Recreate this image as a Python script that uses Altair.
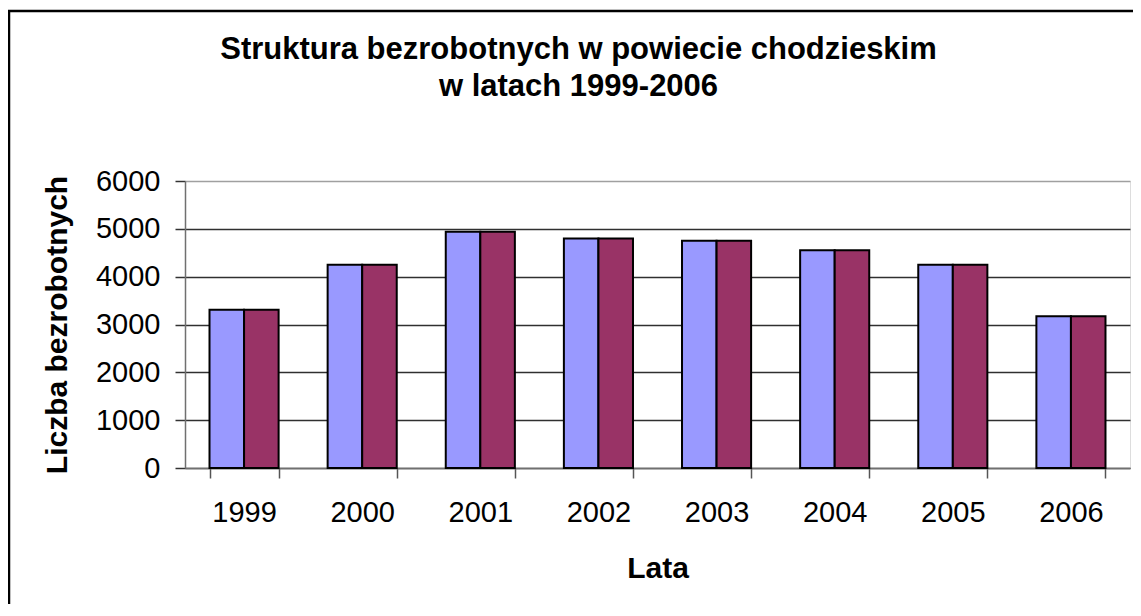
import altair as alt
import pandas as pd

years = ["1999", "2000", "2001", "2002", "2003", "2004", "2005", "2006"]
series_a = [3310, 4250, 4940, 4800, 4750, 4550, 4250, 3170]
series_b = [3310, 4250, 4940, 4800, 4750, 4550, 4250, 3170]
series_names = ["Seria1", "Seria2"]
series_colors = ["#9999FF", "#993366"]
y_ticks = [0, 1000, 2000, 3000, 4000, 5000, 6000]

rows = []
for i, y in enumerate(years):
    rows.append({"rok": y, "seria": series_names[0], "liczba": series_a[i]})
    rows.append({"rok": y, "seria": series_names[1], "liczba": series_b[i]})
df = pd.DataFrame(rows)

W, H = 945, 287
FONT = "Liberation Sans"

bars = alt.Chart(df).mark_bar(stroke="black", strokeWidth=2).encode(
    x=alt.X("rok:N", sort=years,
            scale=alt.Scale(paddingInner=0.415, paddingOuter=0.2075),
            axis=alt.Axis(title="Lata", labelAngle=0, labelFontSize=29, labelFont=FONT,
                          labelColor="black", labelPadding=20, tickSize=10,
                          tickBand="extent", tickColor="#555555", tickWidth=1.5,
                          domainColor="#707070", domainWidth=1.5,
                          titleFont=FONT, titleFontSize=30, titleFontWeight="bold",
                          titleColor="black", titleX=W / 2, titleY=109,
                          titleBaseline="alphabetic", titleAlign="center", grid=False)),
    xOffset=alt.XOffset("seria:N", sort=series_names, scale=alt.Scale(paddingInner=0, paddingOuter=0)),
    y=alt.Y("liczba:Q", scale=alt.Scale(domain=[0, 6000], nice=False),
            axis=alt.Axis(title="Liczba bezrobotnych", values=y_ticks, format="d",
                          labelFontSize=29, labelFont=FONT, labelColor="black",
                          labelPadding=15, tickSize=10, tickColor="#333333", tickWidth=1.5,
                          domainColor="#707070", domainWidth=1.5,
                          grid=True,
                          gridColor={"condition": {"test": "datum.value === 6000", "value": "#a0a0a0"},
                                     "value": "#303030"},
                          gridWidth=1.5,
                          titleFont=FONT, titleFontSize=30, titleFontWeight="bold",
                          titleColor="black", titleAngle=270, titleX=-119, titleY=H / 2,
                          titleBaseline="alphabetic", titleAlign="center")),
    color=alt.Color("seria:N", sort=series_names,
                    scale=alt.Scale(domain=series_names, range=series_colors), legend=None),
)

frame = alt.Chart(alt.Data(values=[{}])).mark_rect(
    filled=False, stroke="black", strokeWidth=2.5, clip=False
).encode(
    x=alt.value(-176), x2=alt.value(W + 40),
    y=alt.value(-170), y2=alt.value(H + 160),
)

chart = alt.layer(bars, frame).properties(
    width=W, height=H,
    title=alt.TitleParams(
        text=["Struktura bezrobotnych w powiecie chodzieskim", "w latach 1999-2006"],
        font=FONT, fontSize=31, fontWeight="bold", color="black",
        anchor="middle", dx=-79, dy=97, lineHeight=37,
    ),
    autosize=alt.AutoSizeParams(type="none"),
    padding={"left": 177, "top": 173, "right": 3, "bottom": 136},
).configure_view(
    fill="#C0C0C0", stroke="#8c8c8c", strokeWidth=2
).configure(background="white")

chart.save("out.html", embed_options={"renderer": "svg", "actions": False})
